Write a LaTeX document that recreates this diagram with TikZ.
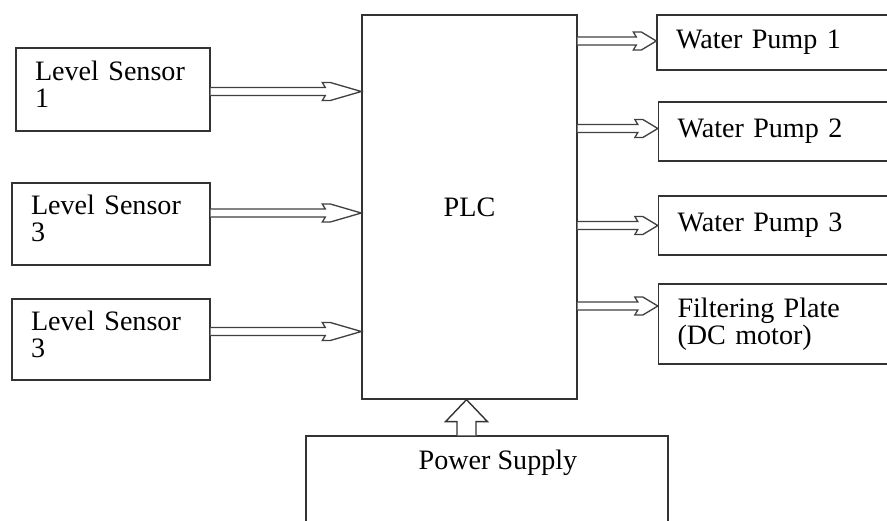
\documentclass[tikz,border=0pt]{standalone}
\usepackage{fontspec}
\setmainfont{Liberation Serif}
\usetikzlibrary{arrows.meta,calc,positioning}
\tikzset{box/.style={draw=black!80,line width=0.8pt,align=left,inner xsep=0.38cm,font=\fontsize{16}{15.5}\selectfont},
  sensor/.style={box,text width=3.2cm,text depth=0.76cm},
  harr/.style={draw=black!75,line width=0.75pt,fill=white,
    to path={($(\tikztostart)+(0,-4)$) -- ($(\tikztotarget)+(-#1,-4)$) -- ($(\tikztotarget)+(-#1-3,-9)$)
      -- ($(\tikztotarget)+(-#1+5,-9)$) -- (\tikztotarget) -- ($(\tikztotarget)+(-#1+5,9)$)
      -- ($(\tikztotarget)+(-#1-3,9)$) -- ($(\tikztotarget)+(-#1,4)$) -- ($(\tikztostart)+(0,4)$)}},
  harr/.default=20,
  pwrarr/.style={draw=black!80,line width=0.8pt,fill=white}}

\begin{document}
\begin{tikzpicture}[x=0.02cm,y=-0.02cm]
\useasboundingbox (0,0) rectangle (887,521);
\clip (0,0) rectangle (887,521);
% sensors
\node[sensor,text width=3.12cm,minimum height=1.66cm] (ls1) at (113,89.5) {Level Sensor\\1};
\node[sensor,minimum height=1.64cm] (ls2) at (111,224) {Level Sensor\\3};
\node[sensor,minimum height=1.62cm] (ls3) at (111,339.5) {Level Sensor\\3};
% controller
\node[box,align=center,minimum width=4.3cm,minimum height=7.68cm] (plc) at (469.5,207) {PLC};
% outputs
\node[box,text width=4.1cm,minimum height=1.1cm] (wp1) at (778.5,42.5) {Water Pump 1};
\node[box,text width=4.1cm,minimum height=1.18cm] (wp2) at (780,131.5) {Water Pump 2};
\node[box,text width=4.1cm,minimum height=1.18cm] (wp3) at (780,225.5) {Water Pump 3};
\node[box,text width=4.1cm,minimum height=1.6cm] (fp) at (780,324) {Filtering Plate\\(DC motor)};
\node[box,minimum width=7.24cm,minimum height=2.48cm,
  label={[anchor=north,inner sep=0pt,yshift=-0.28cm,xshift=0.22cm,font=\fontsize{16}{15.5}\selectfont]north:Power Supply}] (ps) at (487,498) {};

\coordinate (in1) at ([yshift=-0.04cm]ls1.east);
\coordinate (in2) at ([yshift=0.22cm]ls2.east);
\coordinate (in3) at ([yshift=0.16cm]ls3.east);
\foreach \i in {1,2,3}
  \draw[harr=36] (in\i) to (in\i -| plc.west);

\coordinate (out1) at ([yshift=0.03cm]wp1.west);
\coordinate (out2) at ([yshift=0.06cm]wp2.west);
\coordinate (out3) at (wp3.west);
\coordinate (out4) at ([yshift=0.36cm]fp.west);
\foreach \i in {1,...,4}
  \draw[harr] (out\i -| plc.east) to (out\i);

% power feed
\coordinate (pt) at ([xshift=-0.06cm]plc.south);
\coordinate (pb) at (pt |- ps.north);
\draw[pwrarr] ($(pb)+(-9.5,0)$) -- ($(pt)+(-9.5,22)$) -- ($(pt)+(-21,22)$) -- (pt)
  -- ($(pt)+(21,22)$) -- ($(pt)+(9.5,22)$) -- ($(pb)+(9.5,0)$);
\end{tikzpicture}
\end{document}
